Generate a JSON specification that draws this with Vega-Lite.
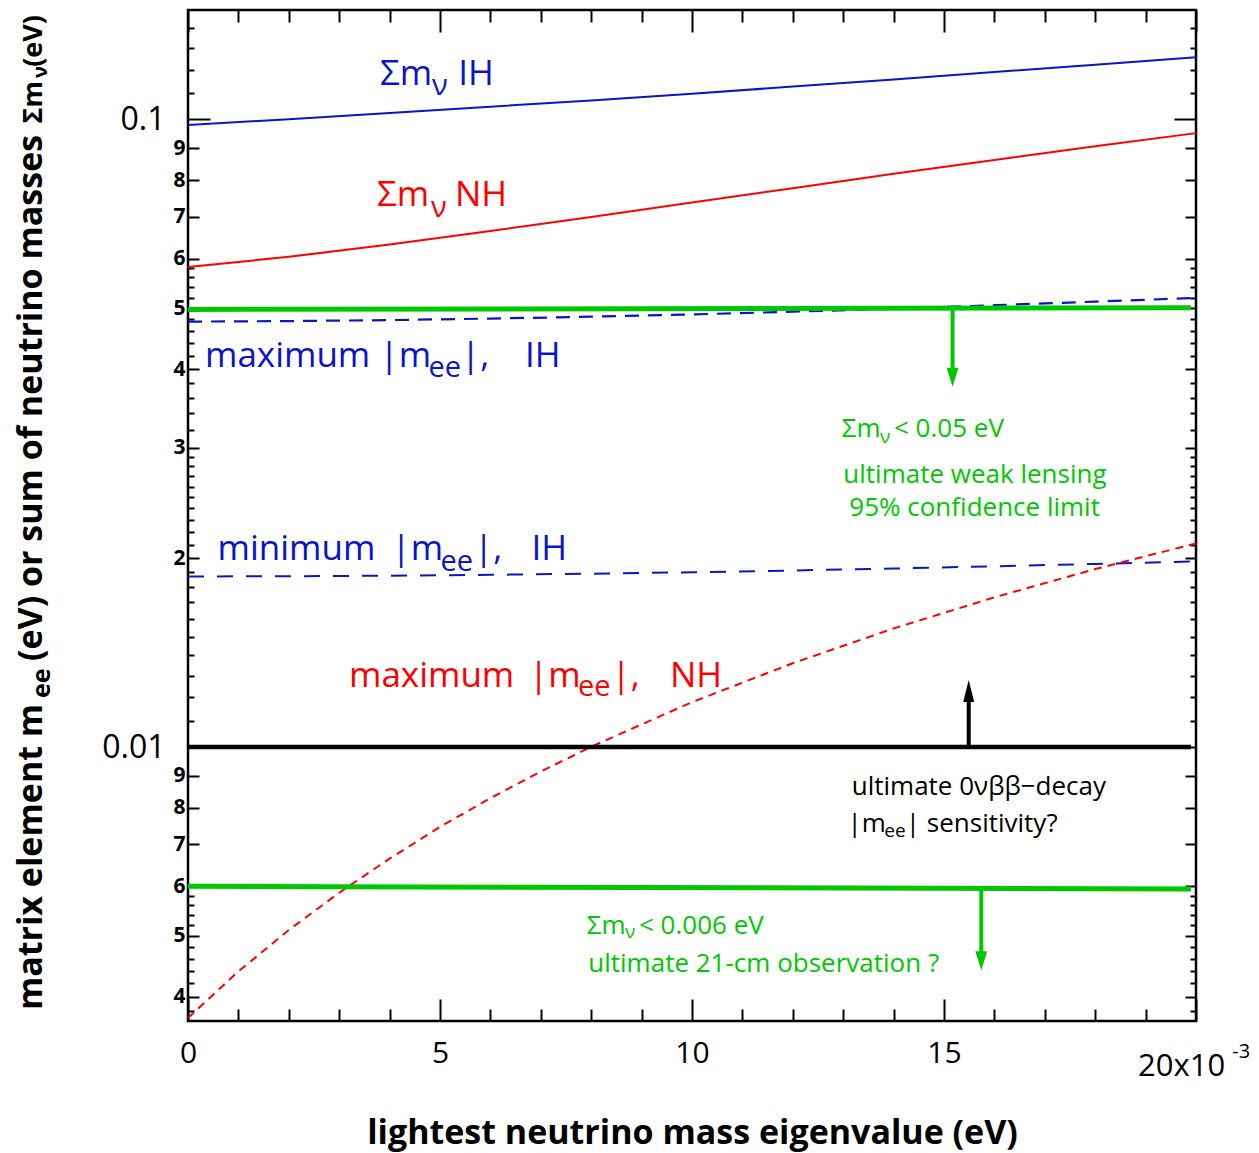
{
  "$schema": "https://vega.github.io/schema/vega-lite/v6.json",
  "width": 1008,
  "height": 1011,
  "autosize": {"type": "none"},
  "padding": {"left": 188, "top": 10, "right": 63, "bottom": 132},
  "background": "white",
  "config": {
    "view": {"stroke": "#000000", "strokeWidth": 2.5},
    "text": {"font": "Open Sans"},
    "axis": {"labelFont": "Open Sans", "titleFont": "Open Sans", "tickColor": "#000000", "tickWidth": 2, "domain": false, "grid": false, "labelColor": "#000000", "titleColor": "#000000", "labelOverlap": false, "labelFlush": false, "labelBound": false}
  },
  "resolve": {"axis": {"x": "independent", "y": "independent"}},
  "datasets": {
    "curves": [
      {"s": "ihsum", "x": 0, "y": 0.098}, {"s": "ihsum", "x": 0.002, "y": 0.1001}, {"s": "ihsum", "x": 0.004, "y": 0.1024}, {"s": "ihsum", "x": 0.006, "y": 0.1048}, {"s": "ihsum", "x": 0.008, "y": 0.1072}, {"s": "ihsum", "x": 0.01, "y": 0.1099}, {"s": "ihsum", "x": 0.012, "y": 0.1128}, {"s": "ihsum", "x": 0.014, "y": 0.1158}, {"s": "ihsum", "x": 0.016, "y": 0.119}, {"s": "ihsum", "x": 0.018, "y": 0.1222}, {"s": "ihsum", "x": 0.02, "y": 0.1256},
      {"s": "nhsum", "x": 0, "y": 0.0582}, {"s": "nhsum", "x": 0.002, "y": 0.0604}, {"s": "nhsum", "x": 0.004, "y": 0.0632}, {"s": "nhsum", "x": 0.006, "y": 0.0664}, {"s": "nhsum", "x": 0.008, "y": 0.0699}, {"s": "nhsum", "x": 0.01, "y": 0.0737}, {"s": "nhsum", "x": 0.012, "y": 0.0777}, {"s": "nhsum", "x": 0.014, "y": 0.0819}, {"s": "nhsum", "x": 0.016, "y": 0.0862}, {"s": "nhsum", "x": 0.018, "y": 0.0906}, {"s": "nhsum", "x": 0.02, "y": 0.0951},
      {"s": "ihmax", "x": 0, "y": 0.04762}, {"s": "ihmax", "x": 0.002, "y": 0.04772}, {"s": "ihmax", "x": 0.004, "y": 0.04789}, {"s": "ihmax", "x": 0.006, "y": 0.04816}, {"s": "ihmax", "x": 0.008, "y": 0.04849}, {"s": "ihmax", "x": 0.01, "y": 0.0489}, {"s": "ihmax", "x": 0.012, "y": 0.04939}, {"s": "ihmax", "x": 0.014, "y": 0.04994}, {"s": "ihmax", "x": 0.016, "y": 0.05058}, {"s": "ihmax", "x": 0.018, "y": 0.05125}, {"s": "ihmax", "x": 0.02, "y": 0.05195},
      {"s": "ihmin", "x": 0, "y": 0.0187}, {"s": "ihmin", "x": 0.002, "y": 0.01871}, {"s": "ihmin", "x": 0.004, "y": 0.01875}, {"s": "ihmin", "x": 0.006, "y": 0.01881}, {"s": "ihmin", "x": 0.008, "y": 0.01889}, {"s": "ihmin", "x": 0.01, "y": 0.01899}, {"s": "ihmin", "x": 0.012, "y": 0.01911}, {"s": "ihmin", "x": 0.014, "y": 0.01925}, {"s": "ihmin", "x": 0.016, "y": 0.01941}, {"s": "ihmin", "x": 0.018, "y": 0.01958}, {"s": "ihmin", "x": 0.02, "y": 0.01976},
      {"s": "nhmax", "x": 0, "y": 0.0037}, {"s": "nhmax", "x": 0.001, "y": 0.00439}, {"s": "nhmax", "x": 0.002, "y": 0.00511}, {"s": "nhmax", "x": 0.003, "y": 0.00586}, {"s": "nhmax", "x": 0.004, "y": 0.00664}, {"s": "nhmax", "x": 0.005, "y": 0.00746}, {"s": "nhmax", "x": 0.006, "y": 0.00829}, {"s": "nhmax", "x": 0.007, "y": 0.00914}, {"s": "nhmax", "x": 0.008, "y": 0.01001}, {"s": "nhmax", "x": 0.01, "y": 0.01179}, {"s": "nhmax", "x": 0.012, "y": 0.0136}, {"s": "nhmax", "x": 0.014, "y": 0.01545}, {"s": "nhmax", "x": 0.016, "y": 0.01732}, {"s": "nhmax", "x": 0.018, "y": 0.01921}, {"s": "nhmax", "x": 0.02, "y": 0.02111},
      {"s": "lim05", "x": 0, "y": 0.0498}, {"s": "lim05", "x": 0.0199, "y": 0.0501},
      {"s": "lim006", "x": 0, "y": 0.006}, {"s": "lim006", "x": 0.0199, "y": 0.00594},
      {"s": "dbd", "x": 0, "y": 0.01}, {"s": "dbd", "x": 0.0199, "y": 0.01}
    ],
    "arrows": [
      {"g": "lim", "d": "down", "x": 0.01517, "ya": 0.0499, "yb": 0.039, "yt": 0.0375},
      {"g": "lim", "d": "down", "x": 0.01574, "ya": 0.00596, "yb": 0.0046, "yt": 0.00441},
      {"g": "k", "d": "up", "x": 0.01549, "ya": 0.01, "yb": 0.0122, "yt": 0.01279}
    ],
    "txt": [
      {"t": "Σm", "x": 0.00381, "y": 0.1134, "g": "ih", "r": "lab"},
      {"t": "ν", "x": 0.00484, "y": 0.1093, "g": "ih", "r": "labsub"},
      {"t": "IH", "x": 0.005363, "y": 0.1134, "g": "ih", "r": "lab"},
      {"t": "Σm", "x": 0.00375, "y": 0.07281, "g": "nh", "r": "lab"},
      {"t": "ν", "x": 0.00482, "y": 0.07, "g": "nh", "r": "labsub"},
      {"t": "NH", "x": 0.005298, "y": 0.07281, "g": "nh", "r": "lab"},
      {"t": "maximum", "x": 0.000337, "y": 0.04029, "g": "ih", "r": "lab"},
      {"t": "|m", "x": 0.0037976, "y": 0.04029, "g": "ih", "r": "lab"},
      {"t": "ee", "x": 0.004772, "y": 0.03883, "g": "ih", "r": "labsub"},
      {"t": "|,", "x": 0.005418, "y": 0.04029, "g": "ih", "r": "lab"},
      {"t": "IH", "x": 0.006687, "y": 0.04029, "g": "ih", "r": "lab"},
      {"t": "minimum", "x": 0.000585, "y": 0.01984, "g": "ih", "r": "lab"},
      {"t": "|m", "x": 0.0040357, "y": 0.01984, "g": "ih", "r": "lab"},
      {"t": "ee", "x": 0.00501, "y": 0.01908, "g": "ih", "r": "labsub"},
      {"t": "|,", "x": 0.0056746, "y": 0.01984, "g": "ih", "r": "lab"},
      {"t": "IH", "x": 0.006815, "y": 0.01984, "g": "ih", "r": "lab"},
      {"t": "maximum", "x": 0.003194, "y": 0.01248, "g": "nh", "r": "lab"},
      {"t": "|m", "x": 0.0067639, "y": 0.01248, "g": "nh", "r": "lab"},
      {"t": "ee", "x": 0.0077381, "y": 0.01208, "g": "nh", "r": "labsub"},
      {"t": "|,", "x": 0.0084028, "y": 0.01248, "g": "nh", "r": "lab"},
      {"t": "NH", "x": 0.009563, "y": 0.01248, "g": "nh", "r": "lab"},
      {"t": "Σm", "x": 0.01297, "y": 0.03123, "g": "lim", "r": "ann"},
      {"t": "ν", "x": 0.01373, "y": 0.03048, "g": "lim", "r": "annsub"},
      {"t": "< 0.05 eV", "x": 0.014008, "y": 0.03123, "g": "lim", "r": "ann"},
      {"t": "ultimate weak lensing", "x": 0.013002, "y": 0.02633, "g": "lim", "r": "ann"},
      {"t": "95% confidence limit", "x": 0.013121, "y": 0.02334, "g": "lim", "r": "ann"},
      {"t": "ultimate 0νββ−decay", "x": 0.013169, "y": 0.008375, "g": "k", "r": "ann"},
      {"t": "|m", "x": 0.013087, "y": 0.007329, "g": "k", "r": "ann"},
      {"t": "ee", "x": 0.013815, "y": 0.007197, "g": "k", "r": "annsub"},
      {"t": "| sensitivity?", "x": 0.014242, "y": 0.007329, "g": "k", "r": "ann"},
      {"t": "Σm", "x": 0.007911, "y": 0.005029, "g": "lim", "r": "ann"},
      {"t": "ν", "x": 0.00867, "y": 0.004962, "g": "lim", "r": "annsub"},
      {"t": "< 0.006 eV", "x": 0.008948, "y": 0.005029, "g": "lim", "r": "ann"},
      {"t": "ultimate 21-cm observation ?", "x": 0.007942, "y": 0.00438, "g": "lim", "r": "ann"},
      {"t": "20x10", "x": 0.01885, "y": 0.002994, "g": "k", "r": "ax"},
      {"t": "-3", "x": 0.02072, "y": 0.003194, "g": "k", "r": "axsup"},
      {"t": "matrix element m", "x": -0.002903, "y": 0.003809, "g": "k", "r": "ttl"},
      {"t": "ee", "x": -0.002738, "y": 0.01197, "g": "k", "r": "ttlsub"},
      {"t": "(eV) or sum of neutrino masses", "x": -0.002903, "y": 0.01371, "g": "k", "r": "ttl"},
      {"t": "Σm", "x": -0.002897, "y": 0.09854, "g": "k", "r": "ttl2"},
      {"t": "ν", "x": -0.002798, "y": 0.1164, "g": "k", "r": "ttl2sub"},
      {"t": "(eV)", "x": -0.002897, "y": 0.1213, "g": "k", "r": "ttl2"}
    ]
  },
  "layer": [
    {
      "data": {"name": "curves"},
      "transform": [{"filter": "datum.s=='ihsum'"}],
      "mark": {"type": "line", "color": "#0a14c8", "strokeWidth": 2},
      "encoding": {
        "x": {"field": "x", "type": "quantitative", "scale": {"domain": [0, 0.02], "nice": false, "zero": false},
          "axis": {"orient": "bottom", "values": [0,0.001,0.002,0.003,0.004,0.005,0.006,0.007,0.008,0.009,0.01,0.011,0.012,0.013,0.014,0.015,0.016,0.017,0.018,0.019,0.02],
            "tickSize": {"expr": "abs(datum.value*200-round(datum.value*200))<1e-6?-22:-12"},
            "labelExpr": "abs(datum.value*200-round(datum.value*200))<1e-6 && datum.value<0.0195 ? ''+round(datum.value*1000) : ''",
            "labelPadding": 39, "labelFontSize": 30, "labelBaseline": "top",
            "title": "lightest neutrino mass eigenvalue (eV)", "titleFontSize": 34, "titleFontWeight": "bold", "titleY": 122, "titleBaseline": "alphabetic"}},
        "y": {"field": "y", "type": "quantitative", "scale": {"type": "log", "domain": [0.00366, 0.1494], "nice": false},
          "axis": {"orient": "left", "title": null,
            "values": [0.0038,0.004,0.0042,0.0044,0.0046,0.0048,0.005,0.0052,0.0054,0.0056,0.0058,0.006,0.007,0.008,0.009,0.01,0.011,0.012,0.013,0.014,0.015,0.016,0.017,0.018,0.019,0.02,0.021,0.022,0.023,0.024,0.025,0.026,0.027,0.028,0.029,0.03,0.032,0.034,0.036,0.038,0.04,0.042,0.044,0.046,0.048,0.05,0.052,0.054,0.056,0.058,0.06,0.07,0.08,0.09,0.1,0.11,0.12,0.13,0.14],
            "tickSize": {"expr": "datum.value==0.1||datum.value==0.01?-22:(indexof([0.004,0.005,0.006,0.007,0.008,0.009,0.02,0.03,0.04,0.05,0.06,0.07,0.08,0.09],datum.value)>=0?-11:-6)"},
            "labelPadding": {"expr": "datum.value==0.1||datum.value==0.01?45:14"},
            "labelExpr": "datum.value==0.1?'0.1':datum.value==0.01?'0.01':indexof([0.004,0.005,0.006,0.007,0.008,0.009],datum.value)>=0?''+round(datum.value*1000):indexof([0.02,0.03,0.04,0.05,0.06,0.07,0.08,0.09],datum.value)>=0?''+round(datum.value*100):''",
            "labelFontSize": {"condition": {"test": "datum.value==0.1||datum.value==0.01", "value": 32}, "value": 21},
            "labelFontWeight": {"condition": {"test": "datum.value==0.1||datum.value==0.01", "value": "normal"}, "value": "bold"}}}
      }
    },
    {
      "data": {"name": "curves"},
      "transform": [{"filter": "datum.s=='nhsum'"}],
      "mark": {"type": "line", "color": "#ff0000", "strokeWidth": 2},
      "encoding": {
        "x": {"field": "x", "type": "quantitative", "scale": {"domain": [0, 0.02], "nice": false, "zero": false},
          "axis": {"orient": "top", "title": null, "labels": false, "values": [0,0.001,0.002,0.003,0.004,0.005,0.006,0.007,0.008,0.009,0.01,0.011,0.012,0.013,0.014,0.015,0.016,0.017,0.018,0.019,0.02],
            "tickSize": {"expr": "abs(datum.value*200-round(datum.value*200))<1e-6?-22:-12"}}},
        "y": {"field": "y", "type": "quantitative", "scale": {"type": "log", "domain": [0.00366, 0.1494], "nice": false},
          "axis": {"orient": "right", "title": null, "labels": false,
            "values": [0.0038,0.004,0.0042,0.0044,0.0046,0.0048,0.005,0.0052,0.0054,0.0056,0.0058,0.006,0.007,0.008,0.009,0.01,0.011,0.012,0.013,0.014,0.015,0.016,0.017,0.018,0.019,0.02,0.021,0.022,0.023,0.024,0.025,0.026,0.027,0.028,0.029,0.03,0.032,0.034,0.036,0.038,0.04,0.042,0.044,0.046,0.048,0.05,0.052,0.054,0.056,0.058,0.06,0.07,0.08,0.09,0.1,0.11,0.12,0.13,0.14],
            "tickSize": {"expr": "datum.value==0.1||datum.value==0.01?-22:(indexof([0.004,0.005,0.006,0.007,0.008,0.009,0.02,0.03,0.04,0.05,0.06,0.07,0.08,0.09],datum.value)>=0?-11:-6)"}}}
      }
    },
    {
      "data": {"name": "curves"},
      "transform": [{"filter": "datum.s=='ihmax'"}],
      "mark": {"type": "line", "color": "#0a14c8", "strokeWidth": 2.2, "strokeDash": [14, 9]},
      "encoding": {
        "x": {"field": "x", "type": "quantitative", "scale": {"domain": [0, 0.02], "nice": false, "zero": false}, "axis": null},
        "y": {"field": "y", "type": "quantitative", "scale": {"type": "log", "domain": [0.00366, 0.1494], "nice": false}, "axis": null}
      }
    },
    {
      "data": {"name": "curves"},
      "transform": [{"filter": "datum.s=='ihmin'"}],
      "mark": {"type": "line", "color": "#0a14c8", "strokeWidth": 2, "strokeDash": [16, 13]},
      "encoding": {
        "x": {"field": "x", "type": "quantitative", "scale": {"domain": [0, 0.02], "nice": false, "zero": false}, "axis": null},
        "y": {"field": "y", "type": "quantitative", "scale": {"type": "log", "domain": [0.00366, 0.1494], "nice": false}, "axis": null}
      }
    },
    {
      "data": {"name": "curves"},
      "transform": [{"filter": "datum.s=='nhmax'"}],
      "mark": {"type": "line", "color": "#ff0000", "strokeWidth": 2, "strokeDash": [8, 6]},
      "encoding": {
        "x": {"field": "x", "type": "quantitative", "scale": {"domain": [0, 0.02], "nice": false, "zero": false}, "axis": null},
        "y": {"field": "y", "type": "quantitative", "scale": {"type": "log", "domain": [0.00366, 0.1494], "nice": false}, "axis": null}
      }
    },
    {
      "data": {"name": "curves"},
      "transform": [{"filter": "datum.s=='lim05'||datum.s=='lim006'"}],
      "mark": {"type": "line", "color": "#00c800", "strokeWidth": 5},
      "encoding": {
        "detail": {"field": "s"},
        "x": {"field": "x", "type": "quantitative", "scale": {"domain": [0, 0.02], "nice": false, "zero": false}, "axis": null},
        "y": {"field": "y", "type": "quantitative", "scale": {"type": "log", "domain": [0.00366, 0.1494], "nice": false}, "axis": null}
      }
    },
    {
      "data": {"name": "curves"},
      "transform": [{"filter": "datum.s=='dbd'"}],
      "mark": {"type": "line", "color": "#000000", "strokeWidth": 4.5},
      "encoding": {
        "x": {"field": "x", "type": "quantitative", "scale": {"domain": [0, 0.02], "nice": false, "zero": false}, "axis": null},
        "y": {"field": "y", "type": "quantitative", "scale": {"type": "log", "domain": [0.00366, 0.1494], "nice": false}, "axis": null}
      }
    },
    {
      "data": {"name": "arrows"},
      "mark": {"type": "rule", "strokeWidth": 4},
      "encoding": {
        "x": {"field": "x", "type": "quantitative", "scale": {"domain": [0, 0.02], "nice": false, "zero": false}, "axis": null},
        "y": {"field": "ya", "type": "quantitative", "scale": {"type": "log", "domain": [0.00366, 0.1494], "nice": false}, "axis": null},
        "y2": {"field": "yb"},
        "color": {"field": "g", "type": "nominal", "scale": {"domain": ["ih", "nh", "lim", "k"], "range": ["#0a14c8", "#ff0000", "#00c800", "#000000"]}, "legend": null}
      }
    },
    {
      "data": {"name": "arrows"},
      "transform": [{"filter": "datum.d=='down'"}],
      "mark": {"type": "point", "shape": "M-0.63,-2L0.63,-2L0,0Z", "filled": true, "size": 361, "opacity": 1, "strokeWidth": 0},
      "encoding": {
        "x": {"field": "x", "type": "quantitative", "scale": {"domain": [0, 0.02], "nice": false, "zero": false}, "axis": null},
        "y": {"field": "yt", "type": "quantitative", "scale": {"type": "log", "domain": [0.00366, 0.1494], "nice": false}, "axis": null},
        "color": {"field": "g", "type": "nominal", "legend": null}
      }
    },
    {
      "data": {"name": "arrows"},
      "transform": [{"filter": "datum.d=='up'"}],
      "mark": {"type": "point", "shape": "M-0.5,2L0.5,2L0,0Z", "filled": true, "size": 484, "opacity": 1, "strokeWidth": 0},
      "encoding": {
        "x": {"field": "x", "type": "quantitative", "scale": {"domain": [0, 0.02], "nice": false, "zero": false}, "axis": null},
        "y": {"field": "yt", "type": "quantitative", "scale": {"type": "log", "domain": [0.00366, 0.1494], "nice": false}, "axis": null},
        "color": {"field": "g", "type": "nominal", "legend": null}
      }
    },
    {
      "data": {"name": "txt"},
      "transform": [{"filter": "datum.r=='lab'"}],
      "mark": {"type": "text", "align": "left", "baseline": "alphabetic", "fontSize": 35},
      "encoding": {
        "x": {"field": "x", "type": "quantitative", "scale": {"domain": [0, 0.02], "nice": false, "zero": false}, "axis": null},
        "y": {"field": "y", "type": "quantitative", "scale": {"type": "log", "domain": [0.00366, 0.1494], "nice": false}, "axis": null},
        "text": {"field": "t"},
        "color": {"field": "g", "type": "nominal", "legend": null}
      }
    },
    {
      "data": {"name": "txt"},
      "transform": [{"filter": "datum.r=='labsub'"}],
      "mark": {"type": "text", "align": "left", "baseline": "alphabetic", "fontSize": 29},
      "encoding": {
        "x": {"field": "x", "type": "quantitative", "scale": {"domain": [0, 0.02], "nice": false, "zero": false}, "axis": null},
        "y": {"field": "y", "type": "quantitative", "scale": {"type": "log", "domain": [0.00366, 0.1494], "nice": false}, "axis": null},
        "text": {"field": "t"},
        "color": {"field": "g", "type": "nominal", "legend": null}
      }
    },
    {
      "data": {"name": "txt"},
      "transform": [{"filter": "datum.r=='ann'"}],
      "mark": {"type": "text", "align": "left", "baseline": "alphabetic", "fontSize": 26},
      "encoding": {
        "x": {"field": "x", "type": "quantitative", "scale": {"domain": [0, 0.02], "nice": false, "zero": false}, "axis": null},
        "y": {"field": "y", "type": "quantitative", "scale": {"type": "log", "domain": [0.00366, 0.1494], "nice": false}, "axis": null},
        "text": {"field": "t"},
        "color": {"field": "g", "type": "nominal", "legend": null}
      }
    },
    {
      "data": {"name": "txt"},
      "transform": [{"filter": "datum.r=='annsub'"}],
      "mark": {"type": "text", "align": "left", "baseline": "alphabetic", "fontSize": 19},
      "encoding": {
        "x": {"field": "x", "type": "quantitative", "scale": {"domain": [0, 0.02], "nice": false, "zero": false}, "axis": null},
        "y": {"field": "y", "type": "quantitative", "scale": {"type": "log", "domain": [0.00366, 0.1494], "nice": false}, "axis": null},
        "text": {"field": "t"},
        "color": {"field": "g", "type": "nominal", "legend": null}
      }
    },
    {
      "data": {"name": "txt"},
      "transform": [{"filter": "datum.r=='ax'"}],
      "mark": {"type": "text", "align": "left", "baseline": "alphabetic", "fontSize": 31},
      "encoding": {
        "x": {"field": "x", "type": "quantitative", "scale": {"domain": [0, 0.02], "nice": false, "zero": false}, "axis": null},
        "y": {"field": "y", "type": "quantitative", "scale": {"type": "log", "domain": [0.00366, 0.1494], "nice": false}, "axis": null},
        "text": {"field": "t"},
        "color": {"field": "g", "type": "nominal", "legend": null}
      }
    },
    {
      "data": {"name": "txt"},
      "transform": [{"filter": "datum.r=='axsup'"}],
      "mark": {"type": "text", "align": "left", "baseline": "alphabetic", "fontSize": 20},
      "encoding": {
        "x": {"field": "x", "type": "quantitative", "scale": {"domain": [0, 0.02], "nice": false, "zero": false}, "axis": null},
        "y": {"field": "y", "type": "quantitative", "scale": {"type": "log", "domain": [0.00366, 0.1494], "nice": false}, "axis": null},
        "text": {"field": "t"},
        "color": {"field": "g", "type": "nominal", "legend": null}
      }
    },
    {
      "data": {"name": "txt"},
      "transform": [{"filter": "datum.r=='ttl'"}],
      "mark": {"type": "text", "align": "left", "baseline": "alphabetic", "fontSize": 34, "fontWeight": "bold", "angle": 270},
      "encoding": {
        "x": {"field": "x", "type": "quantitative", "scale": {"domain": [0, 0.02], "nice": false, "zero": false}, "axis": null},
        "y": {"field": "y", "type": "quantitative", "scale": {"type": "log", "domain": [0.00366, 0.1494], "nice": false}, "axis": null},
        "text": {"field": "t"},
        "color": {"field": "g", "type": "nominal", "legend": null}
      }
    },
    {
      "data": {"name": "txt"},
      "transform": [{"filter": "datum.r=='ttlsub'"}],
      "mark": {"type": "text", "align": "left", "baseline": "alphabetic", "fontSize": 25, "fontWeight": "bold", "angle": 270},
      "encoding": {
        "x": {"field": "x", "type": "quantitative", "scale": {"domain": [0, 0.02], "nice": false, "zero": false}, "axis": null},
        "y": {"field": "y", "type": "quantitative", "scale": {"type": "log", "domain": [0.00366, 0.1494], "nice": false}, "axis": null},
        "text": {"field": "t"},
        "color": {"field": "g", "type": "nominal", "legend": null}
      }
    },
    {
      "data": {"name": "txt"},
      "transform": [{"filter": "datum.r=='ttl2'"}],
      "mark": {"type": "text", "align": "left", "baseline": "alphabetic", "fontSize": 27, "fontWeight": "bold", "angle": 270},
      "encoding": {
        "x": {"field": "x", "type": "quantitative", "scale": {"domain": [0, 0.02], "nice": false, "zero": false}, "axis": null},
        "y": {"field": "y", "type": "quantitative", "scale": {"type": "log", "domain": [0.00366, 0.1494], "nice": false}, "axis": null},
        "text": {"field": "t"},
        "color": {"field": "g", "type": "nominal", "legend": null}
      }
    },
    {
      "data": {"name": "txt"},
      "transform": [{"filter": "datum.r=='ttl2sub'"}],
      "mark": {"type": "text", "align": "left", "baseline": "alphabetic", "fontSize": 20, "fontWeight": "bold", "angle": 270},
      "encoding": {
        "x": {"field": "x", "type": "quantitative", "scale": {"domain": [0, 0.02], "nice": false, "zero": false}, "axis": null},
        "y": {"field": "y", "type": "quantitative", "scale": {"type": "log", "domain": [0.00366, 0.1494], "nice": false}, "axis": null},
        "text": {"field": "t"},
        "color": {"field": "g", "type": "nominal", "legend": null}
      }
    }
  ]
}
